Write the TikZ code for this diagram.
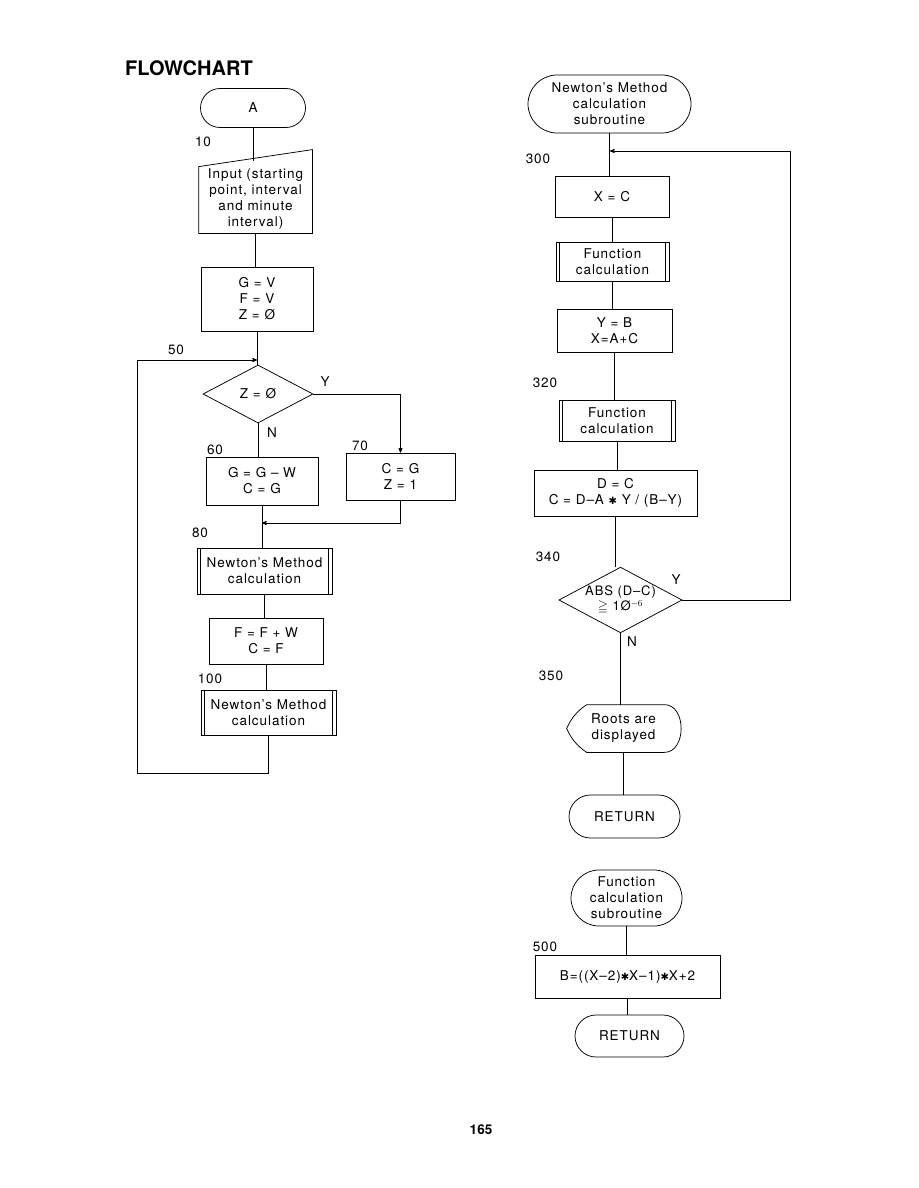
\documentclass[tikz,border=0pt]{standalone}
\usepackage{amsmath,amssymb}
\usepackage{fontspec}
\setmainfont[LetterSpace=7]{TeX Gyre Heros}
\newfontfamily\titlefont{TeX Gyre Heros}
\newfontfamily\symfont{DejaVu Sans}
\newcommand{\mulsign}{{\symfont\fontsize{10}{10}\selectfont ✱}}
\usetikzlibrary{arrows,shapes.geometric,shapes.misc}

\begin{document}
\begin{tikzpicture}[x=1pt,y=-1pt,>=stealth',line width=0.75pt,
  font=\fontsize{13.5}{16}\selectfont,
  term/.style={draw, rounded rectangle, align=center, inner sep=1pt},
  proc/.style={draw, rectangle, align=center, inner sep=1pt},
  predef/.style={draw, rectangle, align=center, inner sep=1pt},
  dec/.style={draw, diamond, align=center, inner sep=0pt},
  lbl/.style={inner sep=0pt}]
\useasboundingbox (0,0) rectangle (918,1188);

\node[lbl] (title) at (189,68) {\titlefont\fontsize{20}{24}\selectfont\bfseries FLOWCHART};

% main routine
\node[term, minimum width=107pt, minimum height=39pt] (A) at (253,108) {A};
\node[lbl] (l10) at (203,142) {10};
\node[inner sep=0pt, minimum width=113pt, minimum height=94pt, align=center] (inp) at (255.5,199) {Input (starting\\point, interval\\and minute\\interval)};
\draw ([yshift=-15pt]inp.north west) -- ([yshift=2pt]inp.north east) -- ([yshift=13pt]inp.south east) -- ([yshift=13pt]inp.south west) -- cycle;
\node[proc, minimum width=112pt, minimum height=64pt] (gfz) at (257,299) {G = V\\F = V\\Z = Ø};

\node[lbl] (l50) at (176,350) {50};
\coordinate (j50) at (257,360);
\node[dec, aspect=1.9, minimum width=110pt, minimum height=58pt] (d1) at (258,394) {Z = Ø};
\node[lbl] (y1) at (325,382) {Y};
\node[lbl] (n1) at (272,433) {N};

\node[lbl] (l60) at (215,450) {60};
\node[proc, minimum width=112pt, minimum height=48pt] (b60) at (262,481) {G = G -- W\\C = G};
\node[lbl] (l70) at (360,446) {70};
\node[proc, minimum width=109pt, minimum height=47pt] (b70) at (400.5,476.5) {C = G\\Z = 1};

\node[lbl] (l80) at (200,533) {80};
\coordinate (j80) at (262,523);
\node[predef, minimum width=135pt, minimum height=46pt] (nm1) at (264.5,571) {Newton's Method\\calculation};
\node[proc, minimum width=114pt, minimum height=46pt] (fb) at (266,641) {F = F + W\\C = F};
\node[lbl] (l100) at (210,679) {100};
\node[predef, minimum width=135pt, minimum height=45pt] (nm2) at (268.5,712.5) {Newton's Method\\calculation};
\coordinate (lp1) at (137,773);

\draw (A.south) -- ([yshift=-9pt]A.south |- inp.north);
\draw ([yshift=13pt]inp.south) -- (inp.south |- gfz.north);
\draw (gfz.south) -- (gfz.south |- d1.north);
\draw[->] (d1.east) -| (b70.north);
\draw (d1.south) -- (d1.south |- b60.north);
\draw[->] (b70.south) |- (j80);
\draw (b60.south) -- (b60.south |- nm1.north);
\draw (nm1.south) -- (nm1.south |- fb.north);
\draw (fb.south) -- (fb.south |- nm2.north);
\draw[->] (nm2.south) |- (lp1) |- (j50);

% Newton's method subroutine
\node[term, minimum width=165pt, minimum height=58pt] (sub1) at (609.5,104) {Newton's Method\\calculation\\subroutine};
\node[lbl] (l300) at (538,159) {300};
\coordinate (j300) at (610,151);
\node[proc, minimum width=114pt, minimum height=41pt] (xc) at (612,196.5) {X = C};
\node[predef, minimum width=113pt, minimum height=39pt] (fc1) at (612.5,261.5) {Function\\calculation};
\node[proc, minimum width=115pt, minimum height=43pt] (yb) at (614.5,330.5) {Y = B\\X=A+C};
\node[lbl] (l320) at (545,383) {320};
\node[predef, minimum width=116pt, minimum height=41pt] (fc2) at (617,420.5) {Function\\calculation};
\node[proc, minimum width=163pt, minimum height=46pt] (dc) at (615.5,493) {D = C\\C = D--A \mulsign{} Y / (B--Y)};
\node[lbl] (l340) at (548,557) {340};
\node[dec, aspect=1.875, minimum width=120pt, minimum height=64pt, font=\fontsize{13}{15}\selectfont] (d2) at (620.5,600) {ABS (D--C)\\$\geqq$ 1Ø$^{-6}$};
\node[lbl] (y2) at (676,580) {Y};
\node[lbl] (n2) at (632,642) {N};
\coordinate (lp2) at (790,600);
\node[lbl] (l350) at (551,676) {350};
\node[inner sep=0pt, minimum width=113pt, minimum height=47pt, align=center] (disp) at (623.5,728.5) {Roots are\\displayed};
\draw (disp.west) to[bend left=15] ([xshift=20pt]disp.north west) -- ([xshift=-16pt]disp.north east)
  to[out=0,in=0,looseness=1.2] ([xshift=-16pt]disp.south east) -- ([xshift=20pt]disp.south west)
  to[bend left=15] (disp.west) -- cycle;
\node[term, minimum width=113pt, minimum height=43pt] (ret1) at (624.5,816.5) {RETURN};

\draw (sub1.south) -- (sub1.south |- xc.north);
\draw (xc.south) -- (xc.south |- fc1.north);
\draw (fc1.south) -- (fc1.south |- yb.north);
\draw (yb.south) -- (yb.south |- fc2.north);
\draw (fc2.south) -- (fc2.south |- dc.north);
\draw (dc.south) -- (dc.south |- d2.north);
\draw[->] (d2.east) -- (lp2) |- (j300);
\draw (d2.south) -- (d2.south |- disp.north);
\draw (disp.south) -- (disp.south |- ret1.north);

% function subroutine
\node[term, minimum width=113pt, minimum height=56pt] (sub2) at (626.5,898) {Function\\calculation\\subroutine};
\node[lbl] (l500) at (545,947) {500};
\node[proc, minimum width=185pt, minimum height=43pt] (bb) at (627.5,976.5) {B=((X--2)\mulsign{}X--1)\mulsign{}X+2};
\node[term, minimum width=111pt, minimum height=42pt] (ret2) at (629.5,1036) {RETURN};
\draw (sub2.south) -- (sub2.south |- bb.north);
\draw (bb.south) -- (bb.south |- ret2.north);

% double sides of the predefined boxes
\foreach \n in {nm1,nm2,fc1,fc2} {
  \draw ([xshift=4pt]\n.north west) -- ([xshift=4pt]\n.south west);
  \draw ([xshift=-4pt]\n.north east) -- ([xshift=-4pt]\n.south east);
}

\node[lbl] (page) at (481,1130) {\titlefont\bfseries 165};
\end{tikzpicture}
\end{document}
